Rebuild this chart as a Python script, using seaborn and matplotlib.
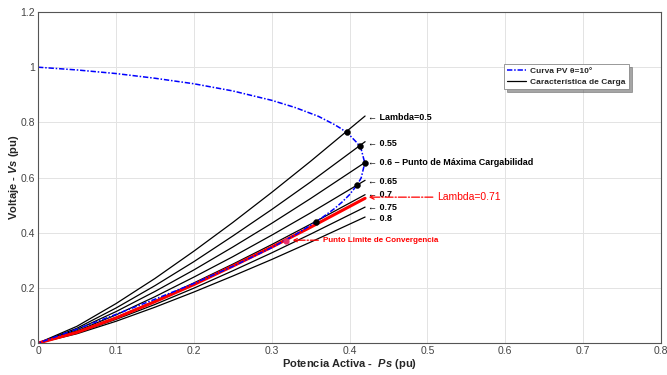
import matplotlib
matplotlib.use("Agg")
import numpy as np
import pandas as pd
import seaborn as sns
import matplotlib.pyplot as plt

# PV curve (theta = 10 deg), upper branch then lower branch back to origin
pv_p = [0.0, 0.05, 0.10, 0.15, 0.20, 0.25, 0.30, 0.33, 0.36, 0.38, 0.39, 0.40,
        0.41, 0.415, 0.4196, 0.415, 0.41, 0.40, 0.39, 0.38, 0.36, 0.33, 0.30,
        0.25, 0.20, 0.15, 0.10, 0.05, 0.0]
pv_v = [1.0, 0.990, 0.977, 0.960, 0.940, 0.914, 0.880, 0.854, 0.822, 0.793,
        0.776, 0.754, 0.725, 0.703, 0.653, 0.599, 0.574, 0.538, 0.510, 0.486,
        0.445, 0.392, 0.346, 0.278, 0.216, 0.159, 0.104, 0.051, 0.0]

# load characteristic curves, one per lambda
load_p = [0.0, 0.05, 0.10, 0.15, 0.20, 0.25, 0.30, 0.35, 0.42]
lambdas = ["0.5", "0.55", "0.6", "0.65", "0.7", "0.75", "0.8"]
load_v = {
    "0.5":  [0.0, 0.061, 0.143, 0.234, 0.333, 0.437, 0.546, 0.659, 0.823],
    "0.55": [0.0, 0.054, 0.127, 0.208, 0.295, 0.388, 0.484, 0.584, 0.730],
    "0.6":  [0.0, 0.049, 0.114, 0.187, 0.265, 0.348, 0.434, 0.524, 0.655],
    "0.65": [0.0, 0.044, 0.102, 0.168, 0.239, 0.313, 0.391, 0.472, 0.590],
    "0.7":  [0.0, 0.040, 0.093, 0.153, 0.218, 0.286, 0.357, 0.431, 0.538],
    "0.75": [0.0, 0.037, 0.086, 0.140, 0.199, 0.262, 0.327, 0.395, 0.493],
    "0.8":  [0.0, 0.034, 0.079, 0.130, 0.185, 0.243, 0.303, 0.366, 0.457],
}
limit_v = [0.0, 0.039, 0.091, 0.150, 0.212, 0.279, 0.348, 0.420, 0.525]  # lambda=0.71

# intersections of the load lines with the PV curve
dot_p = [0.397, 0.413, 0.4195, 0.409, 0.357]
dot_v = [0.766, 0.714, 0.654, 0.572, 0.440]
limit_pt = (0.318, 0.371)

# label texts next to the line ends
label_text = ["Lambda=0.5", "0.55", "0.6 \u2013 Punto de M\u00e1xima Cargabilidad",
              "0.65", "0.7", "0.75", "0.8"]
label_v = [0.816, 0.725, 0.653, 0.587, 0.537, 0.493, 0.453]

sns.set_style("whitegrid")
plt.rcParams["font.family"] = ["Liberation Sans", "DejaVu Sans"]
plt.rcParams["mathtext.fontset"] = "custom"
plt.rcParams["mathtext.it"] = "Liberation Sans:italic:bold"
plt.rcParams["mathtext.rm"] = "Liberation Sans:bold"

fig = plt.figure(figsize=(6.67, 3.75), dpi=100)
ax = fig.add_axes([0.057, 0.085, 0.934, 0.883])

for lam in lambdas:
    sns.lineplot(x=load_p, y=load_v[lam], ax=ax, color="black", lw=0.9,
                 sort=False, estimator=None,
                 label="Caracter\u00edstica de Carga" if lam == "0.5" else None)

sns.lineplot(x=load_p, y=limit_v, ax=ax, color="red", lw=2.2, sort=False,
             estimator=None)

sns.lineplot(x=pv_p, y=pv_v, ax=ax, color="blue", lw=1.1,
             linestyle=(0, (3.5, 1.2, 1, 1.2)),
             sort=False, estimator=None, label="Curva PV \u03b8=10\u00b0")

sns.scatterplot(x=dot_p, y=dot_v, ax=ax, color="black", s=18, zorder=5,
                edgecolor="black")
ax.plot(*limit_pt, "o", color="#e8306a", ms=3.5, zorder=5)

for txt, v in zip(label_text, label_v):
    ax.text(0.4238, v, "\u2190 " + txt, fontsize=6.5, fontweight="bold",
            va="center", ha="left", color="black")

ax.annotate("Lambda=0.71", xy=(0.4245, 0.529), xytext=(0.513, 0.529),
            fontsize=7.5, color="red", va="center",
            arrowprops=dict(arrowstyle="->", color="red", ls="-.", lw=0.9,
                            shrinkA=1, shrinkB=0))
ax.annotate("Punto Limite de Convergencia", xy=(0.327, 0.373),
            xytext=(0.366, 0.373), fontsize=5.8, fontweight="bold",
            color="red", va="center",
            arrowprops=dict(arrowstyle="->", color="red", ls="-.", lw=0.9,
                            shrinkA=1, shrinkB=0))

ax.set_xlim(0, 0.8)
ax.set_ylim(0, 1.2)
ax.set_xticks(np.arange(0, 0.81, 0.1))
ax.set_yticks(np.arange(0, 1.21, 0.2))
ax.set_xticklabels(["0", "0.1", "0.2", "0.3", "0.4", "0.5", "0.6", "0.7", "0.8"])
ax.set_yticklabels(["0", "0.2", "0.4", "0.6", "0.8", "1", "1.2"])
ax.tick_params(labelsize=7.5, labelcolor="#444444", length=2, pad=2,
               direction="in", color="#444444")
ax.grid(color="#e3e3e3", lw=0.7)
for sp in ax.spines.values():
    sp.set_color("#555555")
    sp.set_linewidth(0.8)

ax.set_xlabel("Potencia Activa -  $\\mathit{Ps}$ (pu)", fontsize=8,
              fontweight="bold", labelpad=1)
ax.set_ylabel("Voltaje - $\\mathit{Vs}$ (pu)", fontsize=8, fontweight="bold",
              labelpad=0)

handles, labels = ax.get_legend_handles_labels()
order = [labels.index("Curva PV \u03b8=10\u00b0"),
         labels.index("Caracter\u00edstica de Carga")]
leg = ax.legend([handles[i] for i in order], [labels[i] for i in order],
                loc="upper left", bbox_to_anchor=(0.741, 0.855), fontsize=6,
                frameon=True, fancybox=False, shadow=True, handlelength=2.3,
                borderpad=0.4, labelspacing=0.3, handletextpad=0.5)
leg.get_frame().set_edgecolor("#888888")
leg.get_frame().set_linewidth(0.6)
for t in leg.get_texts():
    t.set_fontweight("bold")

fig.savefig("out.png", dpi=100)
